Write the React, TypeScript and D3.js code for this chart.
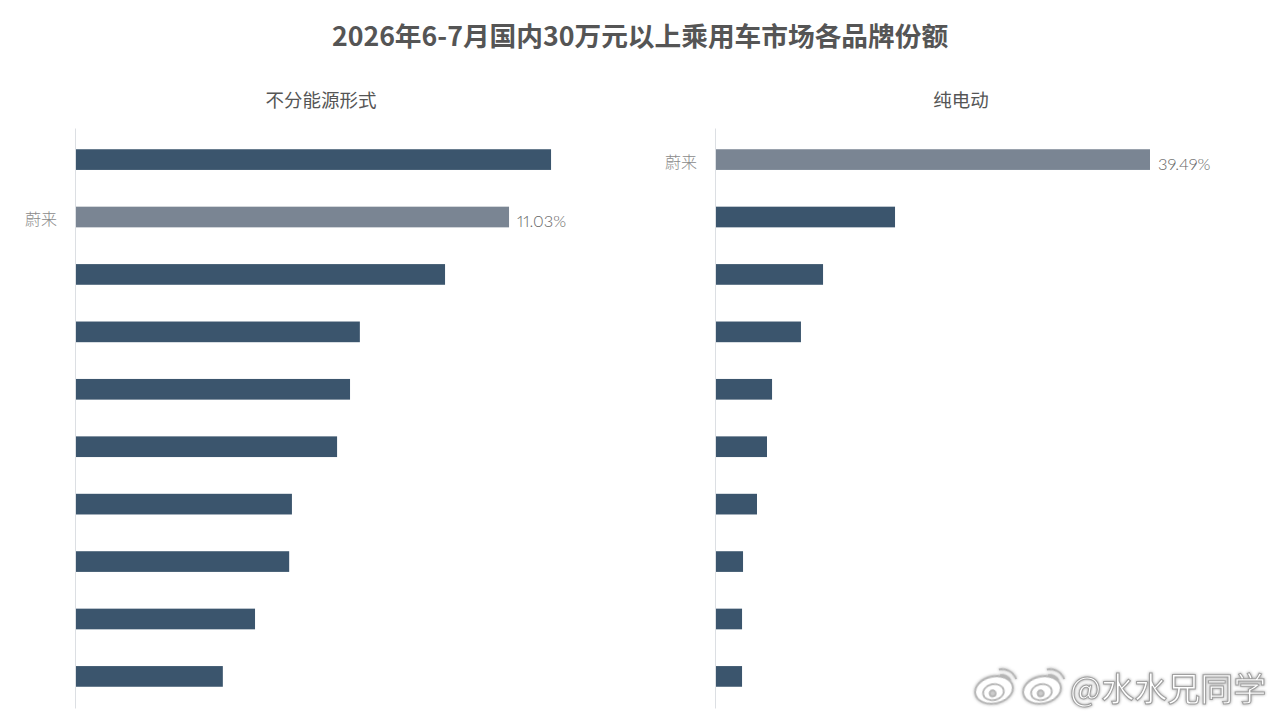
import React, { useEffect, useRef } from 'react';
import * as d3 from 'd3';

const title = '2026年6-7月国内30万元以上乘用车市场各品牌份额';

// only the highlighted brand is named in the picture
const allLabels = ['', '蔚来', '', '', '', '', '', '', '', ''];
const allValues = [12.1, 11.03, 9.4, 7.23, 6.98, 6.65, 5.5, 5.43, 4.56, 3.74];
const allShown = ['', '11.03%', '', '', '', '', '', '', '', ''];

const evLabels = ['蔚来', '', '', '', '', '', '', '', '', ''];
const evValues = [39.49, 16.29, 9.74, 7.73, 5.1, 4.64, 3.73, 2.46, 2.37, 2.37];
const evShown = ['39.49%', '', '', '', '', '', '', '', '', ''];

const CJK = '"Noto Sans CJK SC", "Noto Sans", sans-serif';
const DARK = '#3b556d';
const HIGHLIGHT = '#7a8593';

function drawPanel(
  svg: d3.Selection<SVGSVGElement, unknown, null, undefined>,
  left: number,
  pxPerUnit: number,
  heading: string,
  headingX: number,
  labels: string[],
  values: number[],
  shown: string[],
  highlight: number,
) {
  const top = 128;
  const bottom = 708;

  const x = d3.scaleLinear().domain([0, 10]).range([left, left + pxPerUnit * 10]);
  const y = d3.scaleBand<number>()
    .domain(d3.range(values.length))
    .range([top, bottom])
    .paddingInner(0.64)
    .paddingOuter(0.37);

  svg.append('text')
    .attr('x', headingX)
    .attr('y', 107)
    .attr('text-anchor', 'middle')
    .attr('font-family', CJK)
    .attr('font-size', 18.5)
    .attr('fill', '#555')
    .text(heading);

  svg.selectAll(null)
    .data(values)
    .enter()
    .append('rect')
    .attr('x', x(0))
    .attr('y', (_, i) => y(i)!)
    .attr('width', d => x(d) - x(0))
    .attr('height', y.bandwidth())
    .attr('fill', (_, i) => (i === highlight ? HIGHLIGHT : DARK));

  // Axis carries the brand names
  const axis = svg.append('g')
    .attr('transform', `translate(${left - 1},0)`)
    .call(d3.axisLeft(y).tickSize(0).tickPadding(18).tickFormat(i => labels[i as number]));
  axis.select('.domain').attr('stroke', '#dcdfe3').attr('stroke-width', 1);
  axis.selectAll('text')
    .attr('dy', '0.5em')
    .attr('font-family', CJK)
    .attr('font-weight', 300)
    .attr('font-size', 16)
    .attr('fill', '#8a8a8a');

  svg.selectAll(null)
    .data(values)
    .enter()
    .append('text')
    .attr('x', d => x(d) + 8)
    .attr('y', (_, i) => y(i)! + y.bandwidth() / 2 + 10)
    .attr('font-family', 'Lato, sans-serif')
    .attr('font-weight', 300)
    .attr('font-size', 16.5)
    .attr('fill', '#666')
    .style('font-variant-numeric', 'proportional-nums')
    .text((_, i) => shown[i]);
}

function drawWeiboMark(
  svg: d3.Selection<SVGSVGElement, unknown, null, undefined>,
  cx: number,
) {
  const g = svg.append('g')
    .attr('transform', `translate(${cx},690) rotate(-12)`)
    .attr('fill', 'none')
    .attr('stroke', '#b5b5b5')
    .attr('stroke-width', 1.8)
    .style('filter', 'drop-shadow(0 0 1.5px #aaa)');
  g.append('ellipse').attr('rx', 19).attr('ry', 13.5).attr('fill', '#fff');
  g.append('ellipse').attr('cx', -1).attr('cy', 2).attr('rx', 10.5).attr('ry', 8);
  g.append('circle').attr('cx', -2).attr('cy', 3).attr('r', 3).attr('fill', '#ccc');
  g.append('path').attr('d', 'M9,-19 A15,15 0 0 1 24,-6');
  g.append('path').attr('d', 'M9,-13 A9,9 0 0 1 18,-6');
}

export default function App() {
  const svgRef = useRef<SVGSVGElement>(null);

  useEffect(() => {
    if (!svgRef.current) return;
    const svg = d3.select(svgRef.current);
    svg.selectAll('*').remove();

    svg.append('text')
      .attr('x', 640)
      .attr('y', 46)
      .attr('text-anchor', 'middle')
      .attr('font-family', CJK)
      .attr('font-weight', 700)
      .attr('font-size', 26.7)
      .attr('fill', '#555')
      .text(title);

    drawPanel(svg, 76, 39.26, '不分能源形式', 321, allLabels, allValues, allShown, 1);
    drawPanel(svg, 716, 10.99, '纯电动', 961, evLabels, evValues, evShown, 0);

    // Watermark
    drawWeiboMark(svg, 994);
    drawWeiboMark(svg, 1042);
    svg.append('text')
      .attr('x', 1070)
      .attr('y', 701)
      .attr('font-family', CJK)
      .attr('font-size', 33)
      .attr('fill', '#fff')
      .attr('stroke', '#a0a0a0')
      .attr('stroke-width', 1)
      .style('filter', 'drop-shadow(0 0 1.5px #999)')
      .text('@水水兄同学');
  }, []);

  return (
    <svg
      ref={svgRef}
      width={1280}
      height={720}
      style={{ position: 'absolute', left: 0, top: 0, background: '#fff' }}
    />
  );
}
